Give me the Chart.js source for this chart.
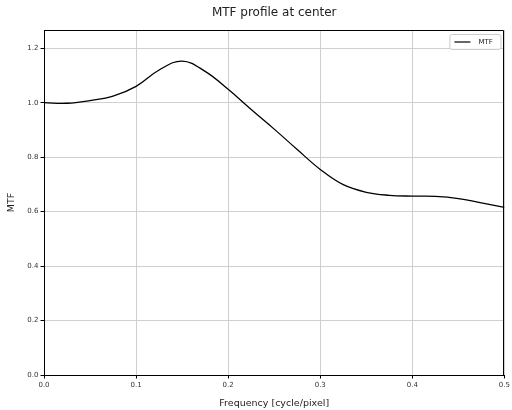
<!DOCTYPE html>
<html><head><meta charset="utf-8">
<script src="https://cdn.jsdelivr.net/npm/chart.js@4/dist/chart.umd.min.js"></script>
<style>html,body{margin:0;padding:0;background:#fff}#wrap{width:512px;height:410px}</style>
</head><body><div id="wrap"><canvas id="c" width="512" height="410"></canvas></div>
<script>
const freq = [0, 0.025, 0.05, 0.075, 0.1, 0.125, 0.15, 0.175, 0.2, 0.225, 0.25, 0.275, 0.3, 0.325, 0.35, 0.375, 0.4, 0.425, 0.45, 0.475, 0.5];
const mtf = [1.000, 0.998, 1.008, 1.024, 1.060, 1.120, 1.153, 1.115, 1.049, 0.975, 0.903, 0.828, 0.755, 0.699, 0.671, 0.660, 0.657, 0.656, 0.648, 0.632, 0.616];
const xTicks = [0, 0.1, 0.2, 0.3, 0.4, 0.5];
const yTicks = [0, 0.2, 0.4, 0.6, 0.8, 1.0, 1.2];
const titleText = 'MTF profile at center';
const xLabel = 'Frequency [cycle/pixel]';
const yLabel = 'MTF';
const seriesName = 'MTF';

const FONT = 'DejaVu Sans';
const points = freq.map((f, i) => ({x: f, y: mtf[i]}));

const extras = {
  id: 'extras',
  afterDraw(chart) {
    const ctx = chart.ctx, a = chart.chartArea;
    ctx.save();
    ctx.strokeStyle = '#000'; ctx.lineWidth = 1;
    ctx.beginPath();
    ctx.moveTo(Math.round(a.left) + 0.5, Math.round(a.bottom));
    ctx.lineTo(Math.round(a.left) + 0.5, Math.round(a.top) + 0.5);
    ctx.lineTo(Math.round(a.right) - 0.5, Math.round(a.top) + 0.5);
    ctx.lineTo(Math.round(a.right) - 0.5, Math.round(a.bottom));
    ctx.stroke();
    ctx.fillStyle = '#222';
    ctx.font = '12px "' + FONT + '"';
    ctx.textAlign = 'center'; ctx.textBaseline = 'middle';
    ctx.fillText(titleText, (a.left + a.right) / 2, 13);
    // legend
    const bx = a.right - 55, by = a.top + 4, bw = 51, bh = 15;
    ctx.fillStyle = 'rgba(255,255,255,0.8)';
    ctx.strokeStyle = '#ccc';
    ctx.beginPath();
    if (ctx.roundRect) ctx.roundRect(bx + 0.5, by + 0.5, bw, bh, 2); else ctx.rect(bx + 0.5, by + 0.5, bw, bh);
    ctx.fill(); ctx.stroke();
    ctx.strokeStyle = '#000'; ctx.lineWidth = 1.2;
    ctx.beginPath(); ctx.moveTo(bx + 5, by + 8); ctx.lineTo(bx + 21, by + 8); ctx.stroke();
    ctx.fillStyle = '#222';
    ctx.font = '7px "' + FONT + '"';
    ctx.textAlign = 'left';
    ctx.fillText(seriesName, bx + 29, by + 8);
    ctx.restore();
  }
};

new Chart(document.getElementById('c'), {
  type: 'line',
  data: { datasets: [{ label: seriesName, data: points, borderColor: '#000', borderWidth: 1.3, pointRadius: 0, tension: 0.4, fill: false }] },
  options: {
    responsive: false, animation: false,
    layout: { padding: { top: 30, right: 5, left: 0, bottom: 0 } },
    plugins: { legend: { display: false }, title: { display: false }, tooltip: { enabled: false } },
    scales: {
      x: {
        type: 'linear', min: 0, max: 0.5,
        afterFit(s) { s.height = 35; },
        afterBuildTicks(s) { s.ticks = xTicks.map(v => ({value: v})); },
        ticks: { font: { family: FONT, size: 7 }, color: '#333', padding: 2, maxRotation: 0, callback: v => v.toFixed(1) },
        grid: { color: '#cfcfcf', tickColor: '#000', tickLength: 3.5, lineWidth: 1 },
        border: { color: '#000', width: 1 },
        title: { display: true, text: xLabel, font: { family: FONT, size: 9.5 }, color: '#222', padding: { top: 0, bottom: 1 } }
      },
      y: {
        type: 'linear', min: 0, max: 1.267,
        afterFit(s) { s.width = 44; },
        afterBuildTicks(s) { s.ticks = yTicks.map(v => ({value: v})); },
        ticks: { font: { family: FONT, size: 7 }, color: '#333', padding: 2, callback: v => v.toFixed(1) },
        grid: { color: '#cfcfcf', tickColor: '#000', tickLength: 3.5, lineWidth: 1 },
        border: { color: '#000', width: 1 },
        title: { display: true, text: yLabel, font: { family: FONT, size: 9.5 }, color: '#222', padding: { top: 6, bottom: 0 } }
      }
    }
  },
  plugins: [extras]
});
</script></body></html>
